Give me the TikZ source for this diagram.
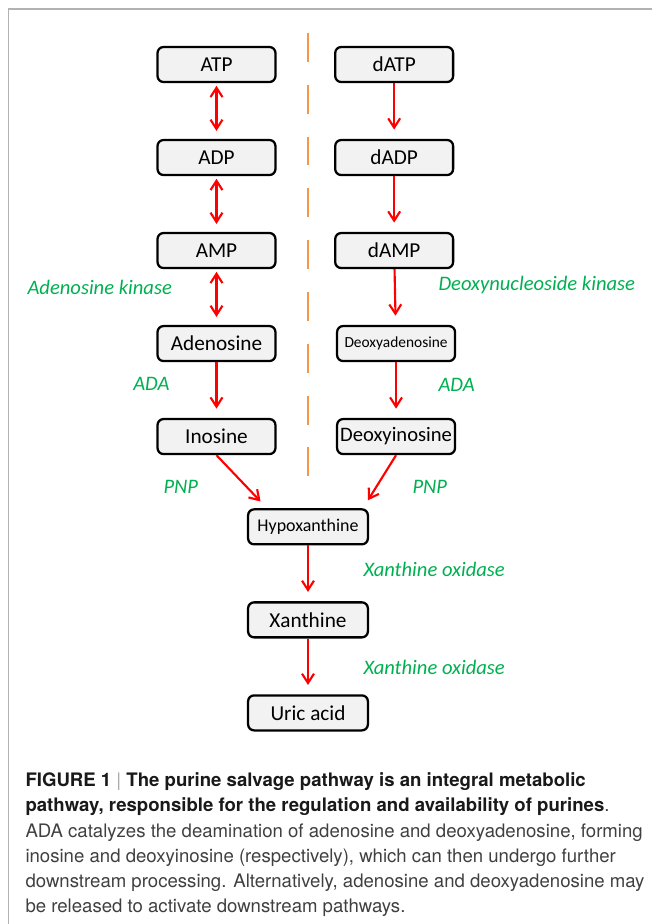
\documentclass[tikz,border=0pt]{standalone}
\usepackage{fontspec}
\setmainfont{Carlito}
\newfontfamily\capfont{TeX Gyre Heros}
\usepackage{xcolor}
\usepackage{tikz}
\usetikzlibrary{arrows.meta, positioning}

\definecolor{enzgreen}{RGB}{0,176,80}
\definecolor{divorange}{RGB}{247,150,70}
\definecolor{boxgray}{RGB}{242,242,242}

\begin{document}
\begin{tikzpicture}[node distance=2.461cm, thick]
        \tikzstyle{metab} = [rectangle, rounded corners=4.5pt, minimum width=3.12cm, minimum height=0.926cm, inner xsep=3pt, text centered, draw=black, line width=1.7pt, fill=boxgray, font=\fontsize{16}{18}\selectfont]
        \tikzstyle{enzyme} = [text=enzgreen, inner sep=0pt, font=\fontsize{15.5}{18}\selectfont\itshape]
        \tikzstyle{arrow} = [red, line width=1.6pt, -{Straight Barb[length=7pt,width=9pt]}, shorten >=7pt]
        \tikzstyle{darrow} = [red, line width=1.6pt, {Straight Barb[length=7pt,width=9pt]}-{Straight Barb[length=7pt,width=9pt]}, shorten >=6pt, shorten <=2pt]

        \useasboundingbox (0,0) rectangle (17.251,-24.448);
        \draw [gray!60, line width=1.1pt] (0.225,-24.448) -- (0.225,-0.235) -- (17.251,-0.235);

        % adenosine side
        \node (atp) [metab] at (5.728,-1.707) {ATP};
        \node (adp) [metab, below of=atp] {ADP};
        \node (amp) [metab, below of=adp] {AMP};
        \node (ado) [metab, below of=amp] {Adenosine};
        \node (ino) [metab, below of=ado] {Inosine};

        % deoxy side
        \node (datp) [metab, right of=atp, xshift=2.24cm] {dATP};
        \node (dadp) [metab, below of=datp] {dADP};
        \node (damp) [metab, below of=dadp] {dAMP};
        \node (dado) [metab, below of=damp, xshift=0.05cm, font=\fontsize{11.6}{14}\selectfont] {Deoxyadenosine};
        \node (dino) [metab, below of=dado, inner xsep=2pt, font=\fontsize{15.5}{18}\selectfont] {Deoxyinosine};

        \node (hyp) [metab, minimum width=3.17cm, font=\fontsize{13.5}{16}\selectfont] at (8.149,-13.94) {Hypoxanthine};
        \node (xan) [metab, minimum width=3.17cm, below of=hyp] {Xanthine};
        \node (uric) [metab, minimum width=3.17cm, below of=xan] {Uric acid};

        \draw [divorange, line width=2pt, dash pattern=on 21.75pt off 17.25pt] (8.149,-0.873) -- (8.149,-12.647);

        \draw [darrow] (atp) -- (adp);
        \draw [darrow] (adp) -- (amp);
        \draw [darrow] (amp) -- (ado);
        \draw [arrow] (ado) -- (ino);

        \draw [arrow] (datp) -- (dadp);
        \draw [arrow] (dadp) -- (damp);
        \draw [arrow] (damp) -- (dado);
        \draw [arrow] (dado) -- (dino);

        \draw [arrow] (ino.south) -- ([xshift=0.53cm]hyp.north west);
        \draw [arrow] (dino.south) -- ([xshift=-0.16cm]hyp.north east);
        \draw [arrow] (hyp) -- (xan);
        \draw [arrow] (xan) -- (uric);

        % enzymes
        \node (adok) [enzyme, anchor=west] at (0.714,-7.593) {Adenosine kinase};
        \node (dnk) [enzyme, anchor=west] at (11.589,-7.541) {Deoxynucleoside kinase};
        \node (adal) [enzyme, anchor=east] at (4.498,-10.16) {ADA};
        \node (adar) [enzyme, anchor=west] at (11.589,-10.186) {ADA};
        \node (pnpl) [enzyme, anchor=west] at (4.313,-12.885) {PNP};
        \node (pnpr) [enzyme, anchor=west] at (10.901,-12.885) {PNP};
        \node (xo1) [enzyme, anchor=west] at (9.604,-15.055) {Xanthine oxidase};
        \node (xo2) [enzyme, anchor=west] at (9.604,-17.648) {Xanthine oxidase};

        \node (caption) [anchor=base west, align=left, inner sep=0pt, text=black!75, font=\capfont\fontsize{14}{19.05}\selectfont] at (0.661,-24.156)
        {{\bfseries\color{black!90}FIGURE 1 {\mdseries\color{gray!70}|} The purine salvage pathway is an integral metabolic}\\
         {\bfseries\color{black!90}pathway, responsible for the regulation and availability of purines}.\\
         ADA catalyzes the deamination of adenosine and deoxyadenosine, forming\\
         inosine and deoxyinosine (respectively), which can then undergo further\\
         downstream processing. Alternatively, adenosine and deoxyadenosine may\\
         be released to activate downstream pathways.};
    \end{tikzpicture}
\end{document}
